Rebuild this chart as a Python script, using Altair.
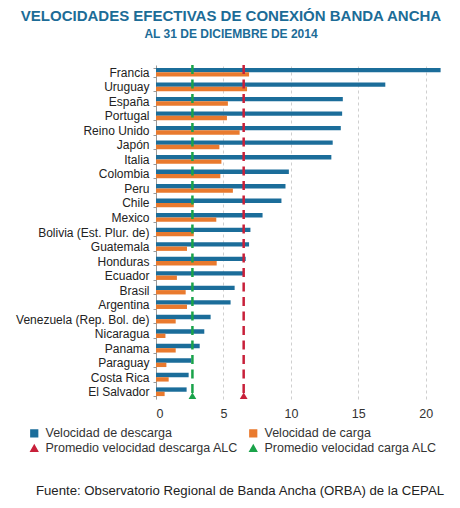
import altair as alt
import pandas as pd

countries = ["Francia", "Uruguay", "España", "Portugal", "Reino Unido", "Japón", "Italia",
             "Colombia", "Peru", "Chile", "Mexico", "Bolivia (Est. Plur. de)", "Guatemala",
             "Honduras", "Ecuador", "Brasil", "Argentina", "Venezuela (Rep. Bol. de)",
             "Nicaragua", "Panama", "Paraguay", "Costa Rica", "El Salvador"]
descarga = [21.1, 17.0, 13.85, 13.8, 13.7, 13.1, 13.0, 9.85, 9.6, 9.3, 7.9, 7.0, 6.9,
            6.65, 6.5, 5.83, 5.53, 4.05, 3.58, 3.24, 2.62, 2.42, 2.27]
carga = [6.9, 6.75, 5.33, 5.26, 6.2, 4.7, 4.85, 4.77, 5.7, 2.8, 4.47, 2.8, 2.3,
         4.5, 1.55, 2.2, 2.3, 1.46, 0.7, 1.46, 0.77, 0.94, 0.64]
prom_descarga = 6.5
prom_carga = 2.7

series = ["Velocidad de descarga", "Velocidad de carga",
          "Promedio velocidad descarga ALC", "Promedio velocidad carga ALC"]
colors = ["#1b6d9a", "#e97a2e", "#c8203a", "#1aa34a"]
shapes = ["square", "square", "triangle-up", "triangle-up"]
x_ticks = [0, 5, 10, 15, 20]
title = "VELOCIDADES EFECTIVAS DE CONEXIÓN BANDA ANCHA"
subtitle = "AL 31 DE DICIEMBRE DE 2014"
source = "Fuente: Observatorio Regional de Banda Ancha (ORBA) de la CEPAL"

bars_df = pd.DataFrame(
    [{"pais": c, "serie": series[0], "valor": d} for c, d in zip(countries, descarga)]
    + [{"pais": c, "serie": series[1], "valor": v} for c, v in zip(countries, carga)]
)
avg_df = pd.DataFrame([
    {"pais": countries[-1], "serie": series[2], "valor": prom_descarga},
    {"pais": countries[-1], "serie": series[3], "valor": prom_carga},
])
src_df = pd.DataFrame([{"t": source}])

FONT = "Liberation Sans"
W, H = 290, 334

color_scale = alt.Scale(domain=series, range=colors)
shape_scale = alt.Scale(domain=series, range=shapes)
x_scale = alt.Scale(domain=[0, 21.5], nice=False)

legend = alt.Legend(
    title=None, orient="none", legendX=-128, legendY=362, columns=2,
    direction="horizontal",
    labelFont=FONT, labelFontSize=12.5, labelColor="#333333",
    symbolSize=45, columnPadding=8, rowPadding=2, labelOffset=5, labelLimit=300,
)

bars = alt.Chart(bars_df).mark_bar().encode(
    x=alt.X("valor:Q", scale=x_scale,
            axis=alt.Axis(values=x_ticks, title=None, domain=False, ticks=False,
                          grid=True, gridDash=[3, 3], gridColor="#cfcfcf",
                          labelFont=FONT, labelFontSize=12.5, labelColor="#333333",
                          labelPadding=8)),
    y=alt.Y("pais:N", sort=countries,
            scale=alt.Scale(paddingInner=0.4, paddingOuter=0.2),
            axis=alt.Axis(title=None, tickBand="extent", tickSize=3, tickColor="#999999",
                          domainColor="#999999", labelFont=FONT, labelFontSize=12,
                          labelColor="#222222", labelPadding=4, labelLimit=200)),
    yOffset=alt.YOffset("serie:N", sort=series[:2]),
    color=alt.Color("serie:N", scale=color_scale, legend=legend),
)

rules = alt.Chart(avg_df).mark_rule(strokeWidth=2.5, strokeDash=[9, 5.5]).encode(
    x=alt.X("valor:Q", scale=x_scale),
    color=alt.Color("serie:N", scale=color_scale, legend=legend),
)

tri = alt.Chart(avg_df).mark_point(filled=True, opacity=1, size=60, yOffset=4).encode(
    x=alt.X("valor:Q", scale=x_scale),
    y=alt.Y("pais:N", sort=countries),
    color=alt.Color("serie:N", scale=color_scale, legend=legend),
    shape=alt.Shape("serie:N", scale=shape_scale, legend=legend),
)

foot = alt.Chart(src_df).mark_text(font=FONT, fontSize=13.2, color="#222222",
                                   align="center", baseline="middle").encode(
    text="t:N", x=alt.value(84), y=alt.value(426)
)

chart = alt.layer(bars, rules, tri, foot).properties(
    width=W, height=H,
    title=alt.TitleParams(
        text=title, subtitle=subtitle, anchor="middle", dx=-70, offset=19,
        font=FONT, fontSize=15, fontWeight="bold", color="#1c6c97",
        subtitleFont=FONT, subtitleFontSize=12, subtitleFontWeight="bold",
        subtitleColor="#1c6c97", subtitlePadding=5,
    ),
    autosize=alt.AutoSizeParams(type="none"),
    padding={"left": 148, "top": 57, "right": 6, "bottom": 101},
).configure_view(stroke=None)

chart.save("out.html", embed_options={"renderer": "svg", "actions": False})
